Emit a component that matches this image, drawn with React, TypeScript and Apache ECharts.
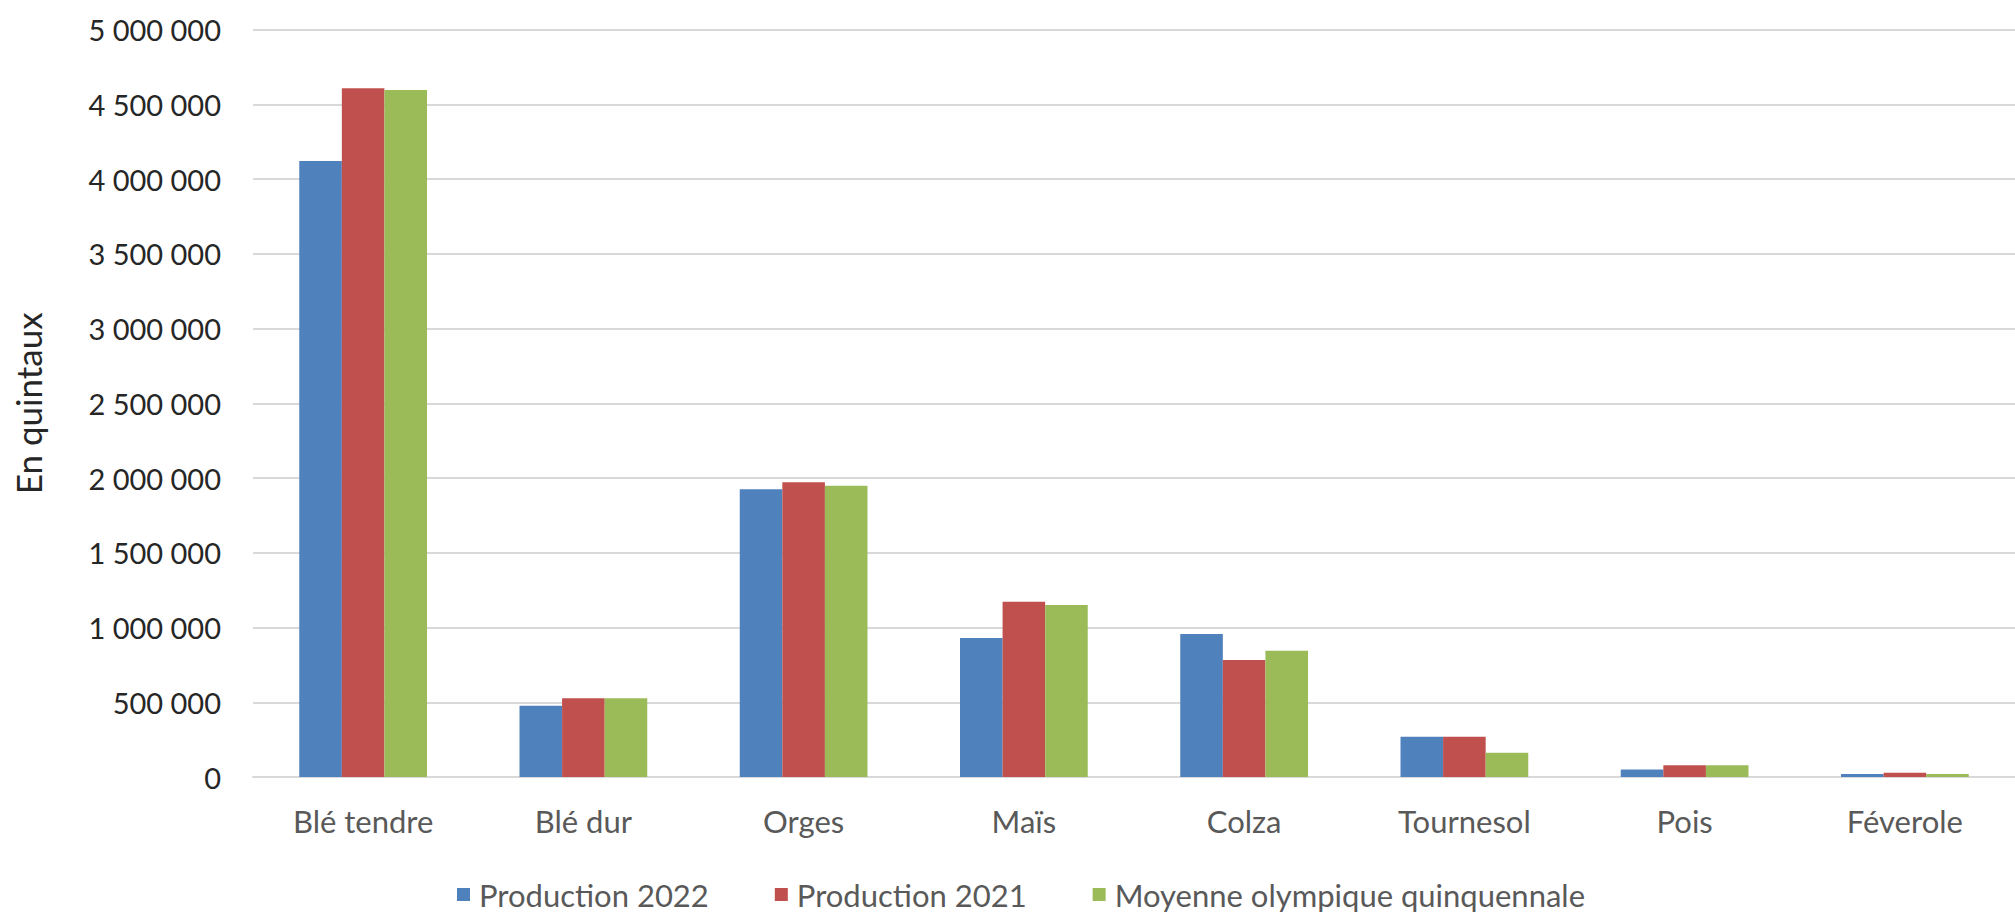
import React, { useEffect, useRef } from "react";
import * as echarts from "echarts";

const categories = ["Blé tendre", "Blé dur", "Orges", "Maïs", "Colza", "Tournesol", "Pois", "Féverole"];
const production2022 = [4120000, 477000, 1924000, 930000, 957000, 270000, 51000, 20000];
const production2021 = [4607000, 526000, 1971000, 1173000, 783000, 270000, 78000, 29000];
const moyenneOlympique = [4595000, 526000, 1948000, 1150000, 845000, 163000, 78000, 20000];
const seriesNames = ["Production 2022", "Production 2021", "Moyenne olympique quinquennale"];
const yTitle = "En quintaux";

const FONT = "Lato, 'Open Sans', sans-serif";
const TEXT = "#595959";

function fmt(v: number): string {
  return String(v).replace(/\B(?=(\d{3})+(?!\d))/g, " ");
}

export default function App() {
  const ref = useRef<HTMLDivElement>(null);
  useEffect(() => {
    if (!ref.current) return;
    const chart = echarts.init(ref.current, null, { renderer: "svg" });
    const mk = (name: string, data: number[], color: string) => ({
      name,
      type: "bar",
      data,
      itemStyle: { color },
      barGap: "0%",
      barCategoryGap: "42%",
    });
    chart.setOption({
      animation: false,
      backgroundColor: "#ffffff",
      grid: { left: 253, right: -9, top: 29.5, bottom: 136, containLabel: false },
      legend: {
        left: 452,
        top: 874,
        itemWidth: 13,
        itemHeight: 13,
        itemGap: 66,
        icon: "rect",
        textStyle: { fontFamily: FONT, fontSize: 31, color: TEXT, padding: [0, 0, 0, 4] },
        data: seriesNames,
      },
      xAxis: {
        type: "category",
        data: categories,
        axisLine: { lineStyle: { color: "#D9D9D9", width: 2 } },
        axisTick: { show: false },
        axisLabel: { fontFamily: FONT, fontSize: 31, color: TEXT, margin: 28 },
      },
      yAxis: {
        type: "value",
        min: 0,
        max: 5000000,
        interval: 500000,
        name: yTitle,
        nameLocation: "middle",
        nameGap: 208,
        nameRotate: 90,
        nameTextStyle: { fontFamily: FONT, fontSize: 35, color: "#262626" },
        axisLine: { show: false },
        axisTick: { show: false },
        splitLine: { lineStyle: { color: "#D9D9D9", width: 2 } },
        axisLabel: {
          fontFamily: FONT,
          fontSize: 29,
          color: "#262626",
          margin: 32,
          formatter: (v: number) => fmt(v),
        },
      },
      series: [
        mk(seriesNames[0], production2022, "#4F81BD"),
        mk(seriesNames[1], production2021, "#C0504D"),
        mk(seriesNames[2], moyenneOlympique, "#9BBB59"),
      ],
    });
    return () => chart.dispose();
  }, []);
  return (
    <div
      ref={ref}
      style={{ position: "fixed", left: 0, top: 0, width: 2015, height: 913, background: "#fff", overflow: "hidden" }}
    />
  );
}
